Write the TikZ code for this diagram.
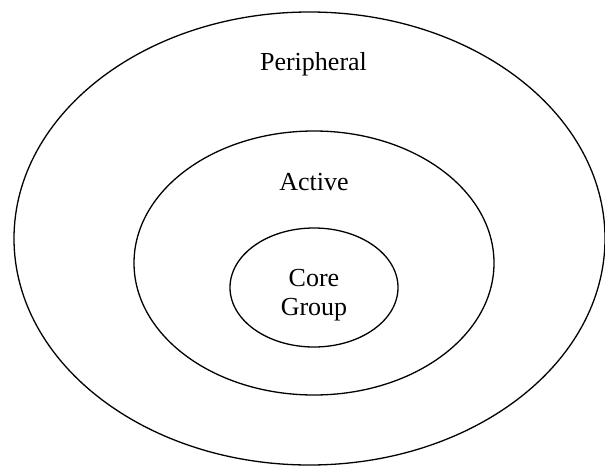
\documentclass[tikz,border=0pt]{standalone}
\usepackage{fontspec}
\setmainfont{Liberation Serif}
\usetikzlibrary{shapes.geometric}
\begin{document}
\begin{tikzpicture}[x=1pt,y=-1pt,
  ring/.style={draw=black, line width=1.3pt, ellipse, inner sep=0pt, outer sep=0pt},
  label/.style={font=\fontsize{26}{29}\selectfont, inner sep=0pt, anchor=base, align=center}]
  \useasboundingbox (0,0) rectangle (605,466);
  % nested rings
  \node[ring, minimum width=591pt, minimum height=453pt] (outer) at (309.5,238.5) {};
  \node[ring, minimum width=360pt, minimum height=264pt] (middle) at (314,263) {};
  \node[ring, minimum width=168pt, minimum height=119pt] (inner) at (314,287.5) {};
  % ring labels (base anchor sits on the last line of a multi-line label)
  \node[label] (peripheral) at (313.5,70) {Peripheral};
  \node[label] (active) at (314,190.5) {Active};
  \node[label] (core) at (314,315) {Core\\Group};
\end{tikzpicture}
\end{document}
